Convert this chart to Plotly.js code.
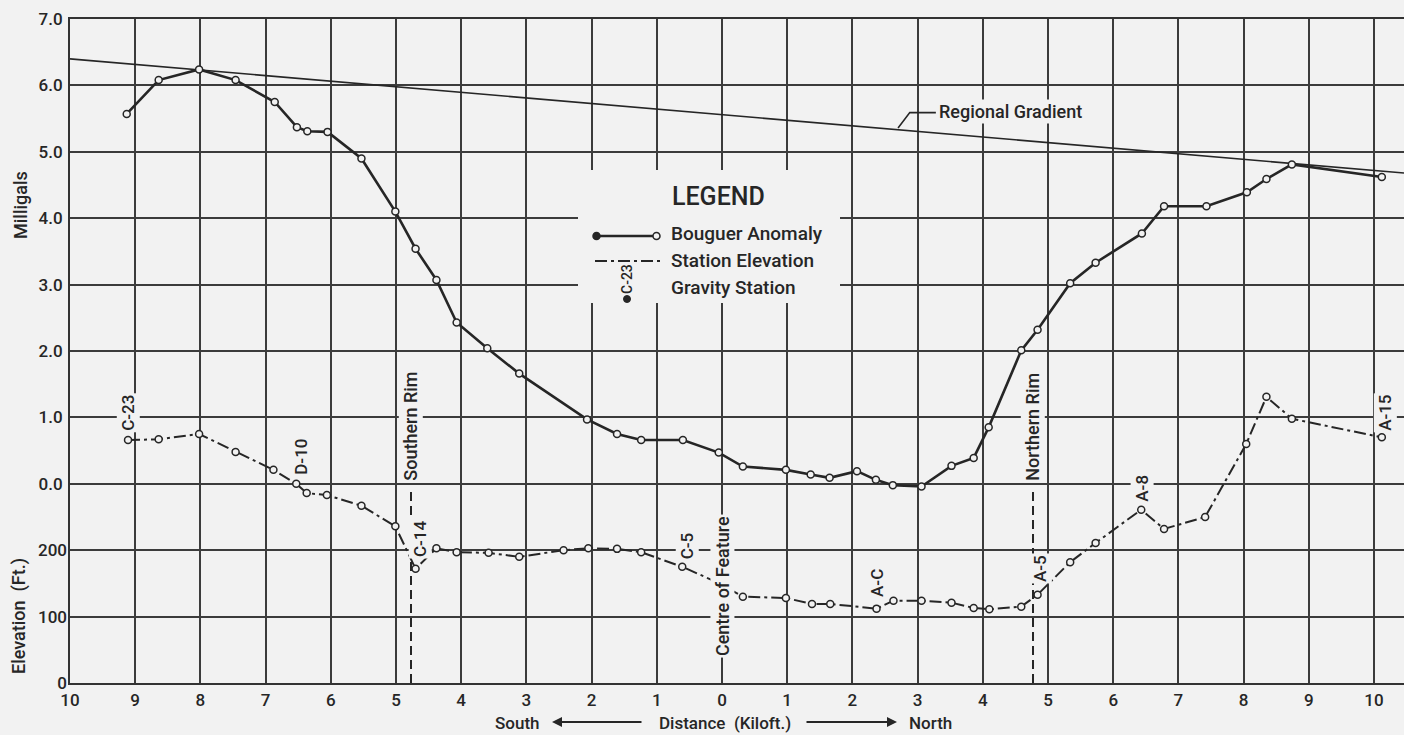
<!DOCTYPE html>
<html>
<head>
<meta charset="utf-8">
<script src="https://cdn.plot.ly/plotly-3.0.1.min.js"></script>
<style>
html,body{margin:0;padding:0;background:#f2f2f2;}
#chart{width:1404px;height:735px;}
</style>
</head>
<body>
<div id="chart"></div>
<script>
// ---- Data ----
// Distance in kiloft: negative = South, positive = North
const bouguerX = [-9.13,-8.64,-8.02,-7.46,-6.86,-6.52,-6.36,-6.05,-5.53,-5.01,-4.70,-4.38,-4.07,-3.60,-3.11,-2.07,-1.61,-1.24,-0.60,-0.05,0.32,0.98,1.36,1.65,2.07,2.36,2.62,3.06,3.52,3.86,4.09,4.59,4.84,5.34,5.73,6.44,6.78,7.43,8.05,8.35,8.74,10.12];
const bouguerMgal = [5.57,6.08,6.24,6.08,5.75,5.37,5.31,5.30,4.90,4.10,3.54,3.07,2.43,2.04,1.66,0.97,0.75,0.66,0.66,0.47,0.26,0.21,0.14,0.09,0.19,0.06,-0.02,-0.04,0.27,0.39,0.85,2.01,2.32,3.02,3.33,3.77,4.18,4.18,4.39,4.59,4.81,4.62];

const elevX = [-9.11,-8.64,-8.02,-7.46,-6.88,-6.53,-6.37,-6.06,-5.53,-5.01,-4.70,-4.38,-4.07,-3.58,-3.11,-2.43,-2.05,-1.61,-1.24,-0.61,-0.06,0.32,0.98,1.38,1.66,2.37,2.63,3.06,3.52,3.86,4.10,4.59,4.84,5.34,5.73,6.43,6.78,7.41,8.04,8.35,8.74,10.12];
const elevFt = [366,367,375,348,321,300,286,283,267,236,172,203,197,196,190,200,203,202,197,175,151,130,128,119,119,112,124,124,121,113,111,115,133,182,211,261,232,250,360,431,398,370];

const regionalX = [-10, 10.46];
const regionalMgal = [6.40, 4.68];

const xTickVals = [-10,-9,-8,-7,-6,-5,-4,-3,-2,-1,0,1,2,3,4,5,6,7,8,9,10];
const xTickText = ["10","9","8","7","6","5","4","3","2","1","0","1","2","3","4","5","6","7","8","9","10"];
const mgalTickVals = [-3,-2,-1,0,1,2,3,4,5,6,7];
const mgalTickText = ["","","","0.0","1.0","2.0","3.0","4.0","5.0","6.0","7.0"];
const elevTickVals = [0,100,200];
const elevTickText = ["0","100","200"];

const stationLabels = ["C-23","D-10","C-14","C-5","A-C","A-5","A-8","A-15"];
const stationLabelX = [-9.11,-6.47,-4.63,-0.54,2.38,4.88,6.44,10.17];
const stationLabelY = [1.07,0.41,-0.83,-0.93,-1.49,-1.28,-0.06,1.07];

const rimNames = ["Southern Rim","Northern Rim"];
const rimX = [-4.77, 4.77];

// ---- Styling ----
const BG = '#f2f2f2';
const INK = '#262626';
const FONT = 'Roboto, "Noto Sans", sans-serif';
const W8 = 500;

// plot-area geometry helpers for paper coordinates (decorations only)
const L = 70, T = 19, W = 1334, H = 664;
const px = v => (v - L) / W;
const py = v => (T + H - v) / H;
const F = (size) => ({family: FONT, size: size, color: INK, weight: W8});

const traces = [
  {x: regionalX, y: regionalMgal, mode: 'lines', line: {color: INK, width: 1.6}, hoverinfo: 'skip', showlegend: false},
  {x: elevX, y: elevFt, yaxis: 'y2', mode: 'lines+markers',
   line: {color: INK, width: 2, dash: '12px,4px,3px,4px'},
   marker: {symbol: 'circle', size: 7, color: BG, line: {color: INK, width: 1.5}}, showlegend: false},
  {x: bouguerX, y: bouguerMgal, mode: 'lines+markers',
   line: {color: INK, width: 2.6},
   marker: {symbol: 'circle', size: 7, color: BG, line: {color: INK, width: 1.5}}, showlegend: false}
];

const annotations = [];
const txt = (o) => Object.assign({showarrow: false, font: F(18), xanchor: 'center', yanchor: 'middle'}, o);
const ptxt = (o) => txt(Object.assign({xref: 'paper', yref: 'paper'}, o));

stationLabels.forEach((s, i) => {
  annotations.push(txt({text: s, x: stationLabelX[i], y: stationLabelY[i], xref: 'x', yref: 'y',
    textangle: -90, bgcolor: BG, borderpad: 1, font: F(17)}));
});
rimNames.forEach((s, i) => {
  annotations.push(txt({text: s, x: rimX[i], y: 0.86, xref: 'x', yref: 'y', textangle: -90, bgcolor: BG, borderpad: 1}));
});
annotations.push(txt({text: 'Centre of Feature', x: 0, y: -1.54, xref: 'x', yref: 'y', textangle: -90, bgcolor: BG, borderpad: 1}));
annotations.push(txt({text: 'Regional Gradient', x: 3.30, y: 5.60, xref: 'x', yref: 'y', xanchor: 'left', bgcolor: BG, borderpad: 1}));

// axis titles
annotations.push(ptxt({text: 'Milligals', x: px(20), y: py(205), textangle: -90}));
annotations.push(ptxt({text: 'Elevation  (Ft.)', x: px(19), y: py(616), textangle: -90}));
annotations.push(ptxt({text: 'South', x: px(517), y: py(723), font: F(17)}));
annotations.push(ptxt({text: 'Distance  (Kiloft.)', x: px(725), y: py(723), font: F(17)}));
annotations.push(ptxt({text: 'North', x: px(930), y: py(723), font: F(17)}));
annotations.push({text: '', x: px(552), y: py(722), xref: 'paper', yref: 'paper', showarrow: true,
  ax: 91, ay: 0, arrowhead: 2, arrowsize: 1, arrowwidth: 2, arrowcolor: INK});
annotations.push({text: '', x: px(897), y: py(722), xref: 'paper', yref: 'paper', showarrow: true,
  ax: -92, ay: 0, arrowhead: 2, arrowsize: 1, arrowwidth: 2, arrowcolor: INK});

// legend block
annotations.push(ptxt({text: 'LEGEND', x: px(718), y: py(196), font: F(25)}));
annotations.push(ptxt({text: 'Bouguer Anomaly', x: px(669), y: py(233), xanchor: 'left', font: F(19)}));
annotations.push(ptxt({text: 'Station Elevation', x: px(669), y: py(260), xanchor: 'left', font: F(19)}));
annotations.push(ptxt({text: 'Gravity Station', x: px(669), y: py(287), xanchor: 'left', font: F(19)}));
annotations.push(ptxt({text: 'C-23', x: px(627), y: py(279), textangle: -90, font: F(14)}));

const shapes = [
  // legend panel hides the grid
  {type: 'rect', xref: 'paper', yref: 'paper', x0: px(578), x1: px(840), y0: py(303), y1: py(170),
   fillcolor: BG, line: {width: 0}, layer: 'above'},
  {type: 'line', xref: 'paper', yref: 'paper', x0: px(597), x1: px(655), y0: py(236), y1: py(236), line: {color: INK, width: 2.5}, layer: 'above'},
  {type: 'circle', xref: 'paper', yref: 'paper', x0: px(593), x1: px(600), y0: py(239.5), y1: py(232.5), fillcolor: INK, line: {color: INK, width: 1.5}, layer: 'above'},
  {type: 'circle', xref: 'paper', yref: 'paper', x0: px(653), x1: px(660), y0: py(239.5), y1: py(232.5), fillcolor: BG, line: {color: INK, width: 1.5}, layer: 'above'},
  {type: 'line', xref: 'paper', yref: 'paper', x0: px(595), x1: px(660), y0: py(261), y1: py(261), line: {color: INK, width: 2, dash: '12px,4px,3px,4px'}, layer: 'above'},
  {type: 'circle', xref: 'paper', yref: 'paper', x0: px(623.5), x1: px(630.5), y0: py(302.5), y1: py(295.5), fillcolor: INK, line: {color: INK, width: 1}, layer: 'above'},
  // regional gradient leader
  {type: 'path', xref: 'x', yref: 'y', path: 'M 2.70 5.36 L 2.88 5.59 L 3.28 5.59', line: {color: INK, width: 1.6}, layer: 'above'}
];
rimX.forEach(x => {
  shapes.push({type: 'line', xref: 'x', yref: 'y', x0: x, x1: x, y0: -3, y1: -0.08,
    line: {color: INK, width: 2, dash: '9px,5px'}, layer: 'above'});
});

const gridStyle = {showgrid: true, gridcolor: '#3c3c3c', gridwidth: 2, zeroline: false,
  showline: true, linecolor: '#333', linewidth: 2, mirror: true, ticks: ''};

const layout = {
  width: 1404, height: 735,
  margin: {l: L, r: 0, t: T, b: 735 - T - H, pad: 0},
  paper_bgcolor: BG, plot_bgcolor: BG,
  font: F(17),
  showlegend: false,
  xaxis: Object.assign({}, gridStyle, {range: [-10, 10.46], tickmode: 'array', tickvals: xTickVals, ticktext: xTickText,
    ticklabelstandoff: 1, tickfont: F(17)}),
  yaxis: Object.assign({}, gridStyle, {range: [-3, 7], tickmode: 'array', tickvals: mgalTickVals, ticktext: mgalTickText,
    ticklabelstandoff: 2, tickfont: F(17)}),
  yaxis2: {overlaying: 'y', side: 'left', range: [0, 1000], tickmode: 'array', tickvals: elevTickVals, ticktext: elevTickText,
    showgrid: false, zeroline: false, showline: false, ticks: '', ticklabelstandoff: 2, tickfont: F(17)},
  annotations: annotations,
  shapes: shapes
};

Plotly.newPlot('chart', traces, layout, {displayModeBar: false, staticPlot: true});
</script>
</body>
</html>
